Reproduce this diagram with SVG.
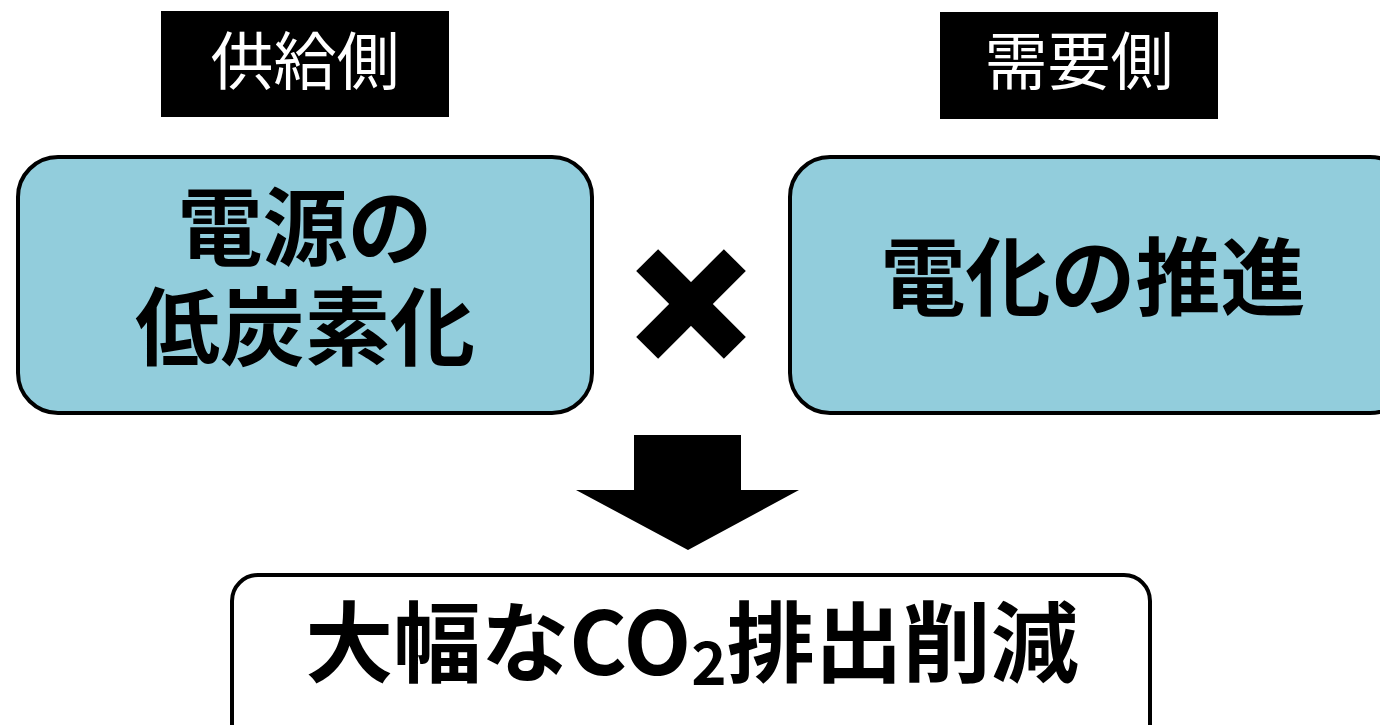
<svg xmlns="http://www.w3.org/2000/svg" width="1380" height="725" viewBox="0 0 1380 725">
<style>
.hdr{fill:#000}
.hdrt{fill:#fff;font-family:"Noto Sans CJK JP","Noto Sans",sans-serif;font-size:63px;text-anchor:middle;dominant-baseline:central}
.box{fill:#92CDDC;stroke:#000;stroke-width:4}
.big{fill:#000;font-family:"Noto Sans CJK JP","Noto Sans",sans-serif;font-weight:bold;font-size:85px;text-anchor:middle;dominant-baseline:central}
</style>
<rect width="1380" height="725" fill="#fff"/>
<g id="supply">
<rect class="hdr" x="161" y="11" width="288" height="106"/>
<text class="hdrt" x="305" y="56">供給側</text>
</g>
<g id="demand">
<rect class="hdr" x="940" y="12" width="278" height="107"/>
<text class="hdrt" x="1079" y="56">需要側</text>
</g>
<g id="lowcarbon">
<rect class="box" x="18" y="157" width="574" height="256" rx="40"/>
<text class="big" x="305" y="221"><tspan x="305" y="221">電源の</tspan><tspan x="305" y="321">低炭素化</tspan></text>
</g>
<g id="electrify">
<rect class="box" x="790" y="157" width="620" height="256" rx="40"/>
<text class="big" x="1093" y="271">電化の推進</text>
</g>
<g id="times">
<rect x="629" y="288.5" width="124" height="31" transform="rotate(45 691 304)" fill="#000"/>
<rect x="629" y="288.5" width="124" height="31" transform="rotate(-45 691 304)" fill="#000"/>
</g>
<g id="connectors">
<polygon points="634,435 741,435 741,490 799,490 688,550 576,490 634,490" fill="#000"/>
</g>
<g id="result">
<rect x="232" y="575" width="918" height="190" rx="26" fill="#fff" stroke="#000" stroke-width="4"/>
<text class="big" x="692" y="636" style="font-size:88px">大幅なCO<tspan font-size="60" dy="22">2</tspan><tspan dy="-22">排出削減</tspan></text>
</g>
</svg>
